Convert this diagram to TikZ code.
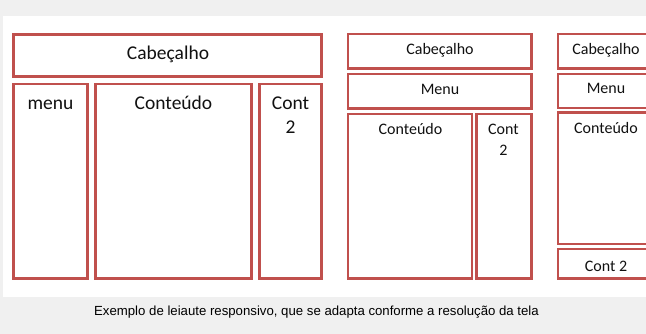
\documentclass[tikz,border=0pt]{standalone}
\usepackage{fontspec}
\setmainfont{Carlito}
\newfontfamily\capfont{Liberation Sans}
\definecolor{bgray}{HTML}{F0F0F0}
\definecolor{boxred}{HTML}{C0504D}
\definecolor{txt}{HTML}{111111}
\begin{document}
\begin{tikzpicture}[x=1pt,y=-1pt,
  frame/.style={draw=boxred,line width=2.6pt,fill=white},
  lbl/.style={text=txt,inner sep=0pt,anchor=base},
  big/.style={lbl,font=\fontsize{19.5}{24}\selectfont},
  small/.style={lbl,font=\fontsize{16}{21}\selectfont}]
\useasboundingbox (0,0) rectangle (646,334);
\clip (0,0) rectangle (646,334);
\fill[bgray] (0,0) rectangle (646,334);
\fill[white] (3,16.5) rectangle (660,297);
% layout 1
\draw[frame] (13.5,34.5) rectangle (321.5,76.5);
\draw[frame] (13.5,84) rectangle (87.5,278.5);
\draw[frame] (95.5,84) rectangle (251.5,278.5);
\draw[frame] (259.5,84) rectangle (321.5,278.5);
\node[big] (h1) at (168,60) {Cabeçalho};
\node[big] (m1) at (50.5,109.5) {menu};
\node[big] (c1) at (173.5,109.5) {Conteúdo};
\node[big] (d1) at (290.5,109.5) {Cont};
\node[big] (e1) at (290.5,133.5) {2};
% layout 2
\draw[frame] (348,34) rectangle (531.5,68.5);
\draw[frame] (348,74) rectangle (531.5,108.5);
\draw[frame] (348,114) rectangle (472,278.5);
\draw[frame] (476.5,114) rectangle (531.5,278.5);
\node[small] (h2) at (440,55) {Cabeçalho};
\node[small] (m2) at (440,95) {Menu};
\node[small] (c2) at (410.5,135) {Conteúdo};
\node[small] (d2) at (503.5,135) {Cont};
\node[small] (e2) at (503.5,156) {2};
% layout 3
\draw[frame] (558,34) rectangle (680,68.5);
\draw[frame] (558,74) rectangle (680,108);
\draw[frame] (558,112.5) rectangle (680,244);
\draw[frame] (558,249) rectangle (680,278.5);
\node[small] (h3) at (606,55) {Cabeçalho};
\node[small] (m3) at (606,94) {Menu};
\node[small] (c3) at (606,134) {Conteúdo};
\node[small] (d3) at (606,272) {Cont 2};
% caption
\node[text=black,inner sep=0pt,anchor=base,font=\capfont\fontsize{13.2}{15}\selectfont] (cap) at (316.5,315) {Exemplo de leiaute responsivo, que se adapta conforme a resolução da tela};
\end{tikzpicture}
\end{document}
